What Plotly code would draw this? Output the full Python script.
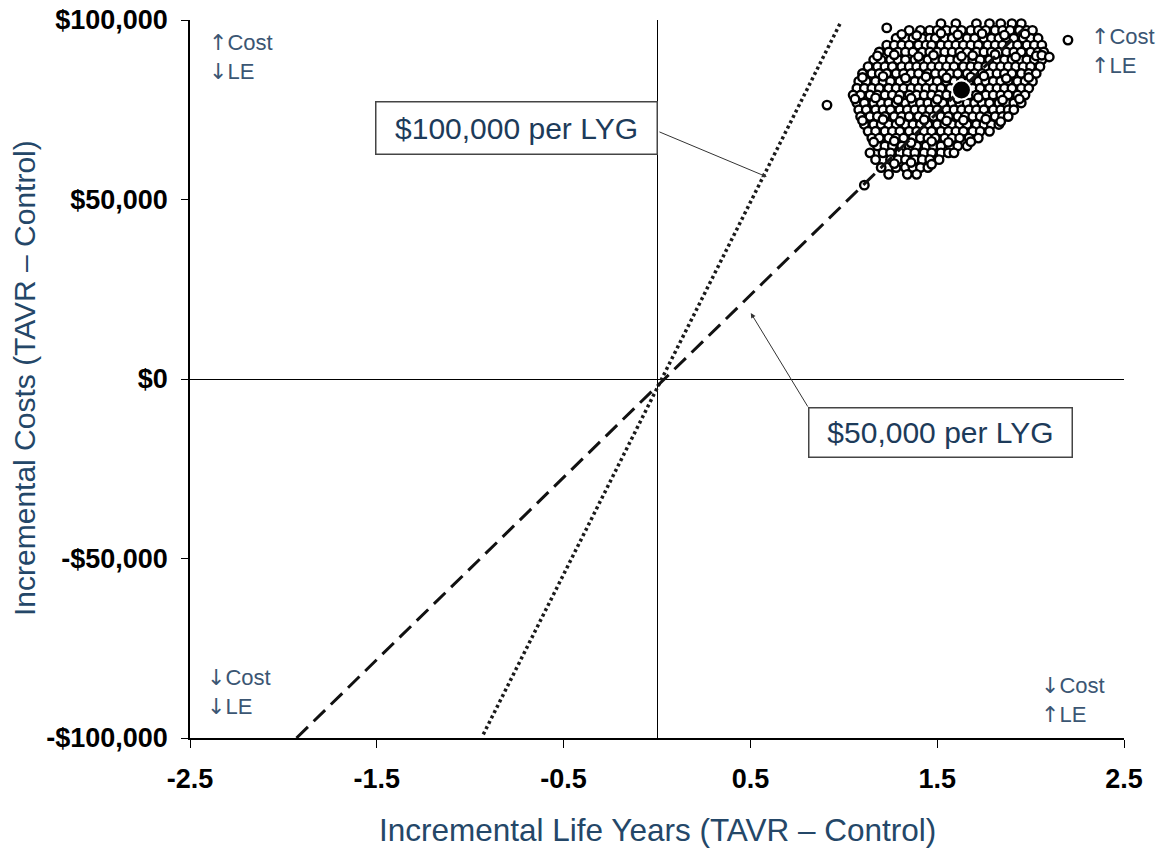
import plotly.graph_objects as go

# ---------------- data ----------------
x_ticks = [-2.5, -1.5, -0.5, 0.5, 1.5, 2.5]
x_ticklabels = ["-2.5", "-1.5", "-0.5", "0.5", "1.5", "2.5"]
y_ticks = [-100000, -50000, 0, 50000, 100000]
y_ticklabels = ["-$100,000", "-$50,000", "$0", "$50,000", "$100,000"]

# bootstrap replicates (incremental costs per row)
cloud_row_costs = [99000, 97100, 94900, 93000, 91100, 88900, 87000, 85100, 82900, 81000, 79100,
                   76900, 75000, 73100, 70900, 69000, 67100, 64900, 63000, 61100, 58900, 57000]
cloud_row_ly = [
    [1.52, 1.60, 1.71, 1.78, 1.84, 1.90, 1.95],
    [1.35, 1.41, 1.46, 1.50, 1.55, 1.59, 1.63, 1.68, 1.72, 1.76, 1.81, 1.85, 1.89, 1.94, 1.98, 2.01],
    [1.28, 1.33, 1.37, 1.42, 1.46, 1.49, 1.54, 1.58, 1.62, 1.66, 1.70, 1.75, 1.79, 1.83, 1.87, 1.91, 1.96, 2.00, 2.04],
    [1.23, 1.27, 1.31, 1.35, 1.40, 1.44, 1.47, 1.52, 1.56, 1.60, 1.64, 1.68, 1.72, 1.77, 1.81, 1.85, 1.89, 1.93, 1.98, 2.02, 2.06],
    [1.19, 1.24, 1.29, 1.33, 1.37, 1.42, 1.46, 1.50, 1.54, 1.58, 1.62, 1.66, 1.71, 1.75, 1.79, 1.83, 1.87, 1.91, 1.95, 2.00, 2.04, 2.07],
    [1.16, 1.20, 1.25, 1.29, 1.33, 1.38, 1.41, 1.45, 1.49, 1.53, 1.57, 1.61, 1.65, 1.69, 1.73, 1.78, 1.82, 1.86, 1.90, 1.94, 1.98, 2.02, 2.06],
    [1.13, 1.18, 1.22, 1.26, 1.31, 1.35, 1.39, 1.43, 1.47, 1.51, 1.55, 1.59, 1.64, 1.68, 1.72, 1.76, 1.80, 1.84, 1.88, 1.92, 1.96, 2.00, 2.05],
    [1.10, 1.15, 1.19, 1.23, 1.28, 1.32, 1.36, 1.40, 1.45, 1.49, 1.53, 1.57, 1.61, 1.66, 1.70, 1.74, 1.78, 1.82, 1.86, 1.90, 1.95, 1.99, 2.03],
    [1.08, 1.12, 1.17, 1.21, 1.25, 1.30, 1.34, 1.38, 1.42, 1.46, 1.50, 1.55, 1.59, 1.63, 1.67, 1.72, 1.76, 1.80, 1.84, 1.88, 1.93, 1.97, 2.01],
    [1.07, 1.11, 1.15, 1.19, 1.24, 1.28, 1.32, 1.36, 1.40, 1.44, 1.48, 1.52, 1.57, 1.61, 1.65, 1.69, 1.73, 1.78, 1.82, 1.86, 1.90, 1.95, 1.99],
    [1.05, 1.09, 1.14, 1.18, 1.22, 1.26, 1.30, 1.35, 1.39, 1.43, 1.47, 1.51, 1.55, 1.59, 1.63, 1.67, 1.71, 1.76, 1.80, 1.84, 1.88, 1.93, 1.97],
    [1.07, 1.11, 1.16, 1.20, 1.24, 1.28, 1.33, 1.37, 1.41, 1.45, 1.49, 1.53, 1.58, 1.62, 1.66, 1.70, 1.74, 1.78, 1.83, 1.87, 1.91, 1.95],
    [1.08, 1.12, 1.17, 1.21, 1.25, 1.30, 1.34, 1.38, 1.42, 1.46, 1.50, 1.55, 1.59, 1.63, 1.67, 1.71, 1.75, 1.80, 1.84, 1.88, 1.91],
    [1.09, 1.14, 1.18, 1.22, 1.27, 1.31, 1.35, 1.40, 1.44, 1.48, 1.52, 1.56, 1.61, 1.65, 1.69, 1.73, 1.77, 1.81, 1.85, 1.88],
    [1.11, 1.16, 1.20, 1.24, 1.28, 1.33, 1.37, 1.41, 1.45, 1.50, 1.54, 1.58, 1.62, 1.66, 1.71, 1.75, 1.79, 1.83],
    [1.13, 1.17, 1.22, 1.26, 1.30, 1.35, 1.39, 1.43, 1.47, 1.52, 1.56, 1.60, 1.64, 1.69, 1.73, 1.78],
    [1.15, 1.19, 1.24, 1.28, 1.32, 1.37, 1.41, 1.45, 1.49, 1.54, 1.58, 1.62, 1.67, 1.72],
    [1.18, 1.22, 1.26, 1.31, 1.35, 1.39, 1.44, 1.48, 1.52, 1.57, 1.61, 1.66],
    [1.14, 1.21, 1.25, 1.30, 1.34, 1.38, 1.43, 1.47, 1.52, 1.56, 1.59],
    [1.17, 1.25, 1.29, 1.33, 1.38, 1.42, 1.46, 1.51],
    [1.20, 1.28, 1.33, 1.37, 1.41, 1.45],
    [1.24, 1.34, 1.39],
]
# additional replicates lying between the rows
extra_ly = [1.31, 1.39, 1.52, 1.61, 1.74, 1.86, 1.97,
            1.18, 1.27, 1.40, 1.48, 1.63, 1.69, 1.81, 1.92, 2.03,
            1.10, 1.21, 1.33, 1.44, 1.55, 1.68, 1.75, 1.87, 1.99,
            1.06, 1.17, 1.29, 1.36, 1.50, 1.61, 1.72, 1.85, 1.94,
            1.10, 1.21, 1.30, 1.43, 1.55, 1.64, 1.76, 1.84,
            1.16, 1.27, 1.36, 1.47, 1.56, 1.68,
            1.27, 1.36, 1.47]
extra_cost = [96000, 95700, 96300, 95900, 96200, 95800, 96100,
              90000, 90300, 89800, 90200, 89900, 90100, 90400, 89700, 90000,
              84000, 84300, 83800, 84200, 83900, 84100, 84400, 83700, 84000,
              78000, 78300, 77800, 78200, 77900, 78100, 78400, 77700, 78000,
              72000, 72300, 71800, 72200, 71900, 72100, 72400, 71700,
              66000, 66300, 65800, 66200, 65900, 66100,
              60000, 60300, 59800]
outlier_ly = [0.91, 1.23, 2.20, 2.06, 2.10, 1.11]
outlier_cost = [76300, 97800, 94400, 90200, 89700, 54000]

mean_ly = [1.63]
mean_cost = [80500]

wtp100_ly = [-0.93, 0.98]
wtp100_cost = [-99000, 99000]
wtp50_ly = [-1.93, 1.96]
wtp50_cost = [-100000, 97500]

# ---------------- build ----------------
cloud_x, cloud_y = [], []
for c, row in zip(cloud_row_costs, cloud_row_ly):
    for v in row:
        cloud_x.append(v)
        cloud_y.append(c)
cloud_x += extra_ly + outlier_ly
cloud_y += extra_cost + outlier_cost

fig = go.Figure()
fig.add_trace(go.Scatter(
    x=cloud_x, y=cloud_y, mode="markers", cliponaxis=False,
    marker=dict(size=8.5, color="white", line=dict(color="black", width=2.4)),
    showlegend=False, hoverinfo="skip"))
fig.add_trace(go.Scatter(
    x=wtp100_ly, y=wtp100_cost, mode="lines",
    line=dict(color="#1a1a1a", width=3.5, dash="3px,3px"), showlegend=False))
fig.add_trace(go.Scatter(
    x=wtp50_ly, y=wtp50_cost, mode="lines",
    line=dict(color="#111111", width=3, dash="16px,8px"), showlegend=False))
fig.add_trace(go.Scatter(
    x=mean_ly, y=mean_cost, mode="markers", cliponaxis=False,
    marker=dict(size=19, color="black", line=dict(color="white", width=2)),
    showlegend=False))

label_color = "#3B5673"
title_color = "#244768"
box_text_color = "#1D3B5A"
fam = "Liberation Sans, Arial, sans-serif"
up = '<span style="font-family:DejaVu Sans">\u2191</span>'
dn = '<span style="font-family:DejaVu Sans">\u2193</span>'

quad = [
    (up + "Cost<br>" + dn + "LE", 0.018, 0.989),
    (up + "Cost<br>" + up + "LE", 0.962, 0.997),
    (dn + "Cost<br>" + dn + "LE", 0.016, 0.104),
    (dn + "Cost<br>" + up + "LE", 0.909, 0.094),
]
annotations = []
for t, ax_, ay_ in quad:
    annotations.append(dict(text=t, xref="paper", yref="paper", x=ax_, y=ay_,
                            xanchor="left", yanchor="top", showarrow=False, align="left",
                            font=dict(family=fam, size=22, color=label_color)))

# arrows
annotations.append(dict(x=0.588, y=56300, ax=0.005, ay=69000, xref="x", yref="y",
                        axref="x", ayref="y", text="", showarrow=True, arrowhead=2,
                        arrowsize=1, arrowwidth=1, arrowcolor="#333333", standoff=0))
annotations.append(dict(x=0.502, y=18400, ax=0.812, ay=-8100, xref="x", yref="y",
                        axref="x", ayref="y", text="", showarrow=True, arrowhead=2,
                        arrowsize=1, arrowwidth=1, arrowcolor="#333333", standoff=0))
# boxes
annotations.append(dict(x=-0.75, y=69900, xref="x", yref="y", text="$100,000 per LYG",
                        showarrow=False, bgcolor="white", bordercolor="#444444", borderwidth=1.5,
                        borderpad=0, width=280, height=51,
                        font=dict(family=fam, size=30, color=box_text_color)))
annotations.append(dict(x=1.52, y=-14900, xref="x", yref="y", text="$50,000 per LYG",
                        showarrow=False, bgcolor="white", bordercolor="#444444", borderwidth=1.5,
                        borderpad=0, width=262, height=48,
                        font=dict(family=fam, size=30, color=box_text_color)))
# axis titles
annotations.append(dict(text="Incremental Life Years (TAVR \u2013 Control)", xref="paper", yref="paper",
                        x=0.501, y=-0.128, xanchor="center", yanchor="middle", showarrow=False,
                        font=dict(family=fam, size=31.5, color=title_color)))
annotations.append(dict(text="Incremental Costs (TAVR \u2013 Control)", xref="paper", yref="paper",
                        x=-0.177, y=0.501, xanchor="center", yanchor="middle", showarrow=False,
                        textangle=-90, font=dict(family=fam, size=30, color=title_color)))

fig.update_layout(
    width=1163, height=849,
    margin=dict(l=190, r=39, t=20, b=111, autoexpand=False),
    plot_bgcolor="white", paper_bgcolor="white",
    annotations=annotations,
    xaxis=dict(range=[-2.5, 2.5], tickvals=x_ticks, ticktext=x_ticklabels, automargin=False,
               showgrid=False, zeroline=True, zerolinecolor="black", zerolinewidth=1,
               showline=True, linecolor="black", linewidth=1.5,
               ticks="outside", ticklen=8, tickcolor="black", tickwidth=1,
               tickfont=dict(family=fam, size=27, color="black", weight="bold"),
               ticklabelstandoff=8, ticklabeloverflow="allow"),
    yaxis=dict(range=[-100000, 100000], tickvals=y_ticks, ticktext=y_ticklabels, automargin=False,
               showgrid=False, zeroline=True, zerolinecolor="black", zerolinewidth=1,
               showline=True, linecolor="black", linewidth=1.5,
               ticks="outside", ticklen=7, tickcolor="black", tickwidth=1,
               tickfont=dict(family=fam, size=27, color="black", weight="bold"),
               ticklabelstandoff=8, ticklabeloverflow="allow"),
)

fig.write_html("out.html", config={"displayModeBar": False},
               post_script="document.body.style.margin='0';")
